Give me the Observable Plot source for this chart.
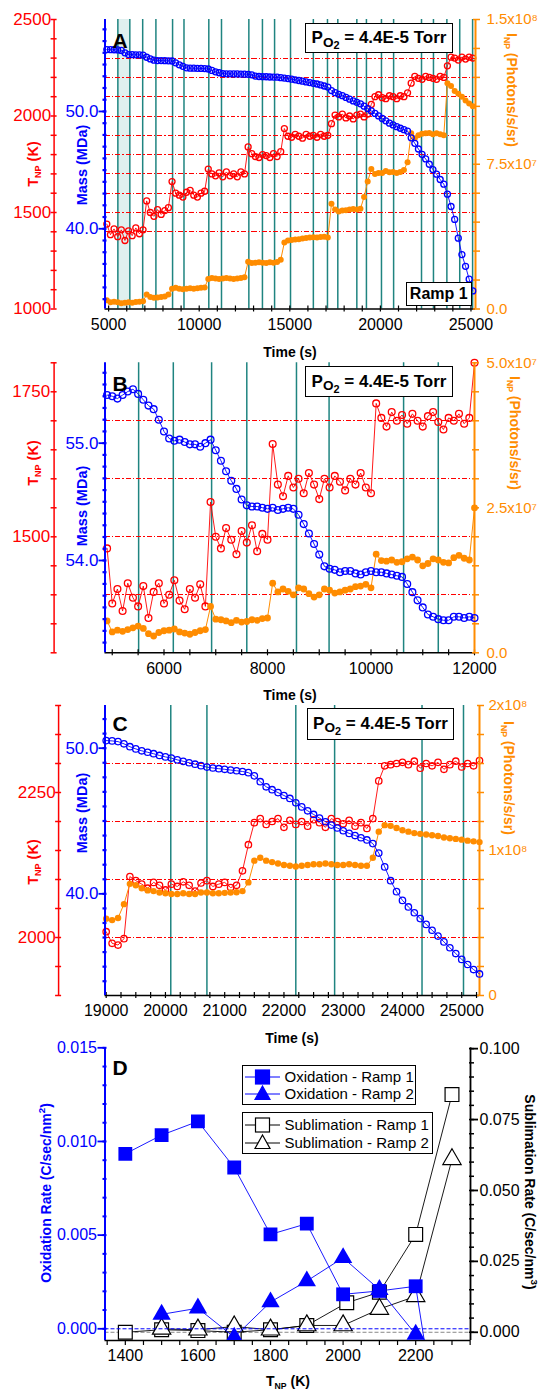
<!DOCTYPE html>
<html>
<head>
<meta charset="utf-8">
<script src="https://cdn.jsdelivr.net/npm/d3@7"></script>
<script src="https://cdn.jsdelivr.net/npm/@observablehq/plot@0.6"></script>
<style>
html,body{margin:0;padding:0;background:#fff;}
#root{position:relative;width:542px;height:1391px;overflow:hidden;font-family:"Liberation Sans",Arial,Helvetica,sans-serif;}
.t{position:absolute;white-space:nowrap;line-height:1;}
.box{position:absolute;box-sizing:border-box;border:1.5px solid #000;background:#fff;display:flex;align-items:center;justify-content:center;font-weight:bold;white-space:nowrap;}
.sb{font-size:0.62em;position:relative;top:0.35em;}
</style>
</head>
<body>
<div id="root"></div>
<script>
// ================= DATA =================
// ---- Panel A (Ramp 1) ----
const timeA = [4900,5100,5300,5500,5700,5900,6100,6300,6500,6700,
6900,7100,7300,7500,7700,7900,8100,8300,8500,8700,
8900,9100,9300,9500,9700,9900,10100,10300,10500,10700,
10900,11100,11300,11500,11700,11900,12100,12300,12500,12700,
12900,13100,13300,13500,13700,13900,14100,14300,14500,14700,
14900,15100,15300,15500,15700,15900,16100,16300,16500,16700,
16900,17100,17300,17500,17700,17900,18100,18300,18500,18700,
18900,19100,19300,19500,19700,19900,20100,20300,20500,20700,
20900,21100,21300,21500,21700,21900,22100,22300,22500,22700,
22900,23100,23300,23500,23700,23900,24100,24300,24500,24700,
24900,25100];
const tempA = [1440,1385,1415,1375,1410,1355,1405,1380,1420,1390,
1410,1560,1500,1480,1515,1490,1510,1525,1660,1600,
1590,1580,1605,1615,1590,1580,1600,1610,1725,1700,
1690,1705,1685,1710,1690,1700,1685,1710,1700,1840,
1805,1790,1785,1800,1795,1785,1805,1790,1815,1935,
1895,1890,1905,1895,1885,1905,1895,1900,1890,1905,
1895,1900,1960,2005,1995,2010,1990,2000,1985,2005,
2010,1995,2010,2060,2100,2110,2095,2090,2105,2100,
2090,2105,2100,2120,2170,2205,2195,2190,2205,2200,
2195,2190,2205,2200,2260,2305,2300,2290,2305,2295,
2305,2300];
const massA = [55.28,55.27,55.26,55.25,55.20,55.00,54.85,54.84,54.83,54.83,
54.80,54.62,54.48,54.37,54.34,54.34,54.33,54.32,54.30,54.15,
53.98,53.85,53.72,53.69,53.69,53.68,53.67,53.66,53.62,53.50,
53.38,53.30,53.23,53.21,53.21,53.20,53.20,53.19,53.18,53.17,
53.12,53.02,52.98,52.97,52.96,52.94,52.93,52.92,52.88,52.85,
52.80,52.75,52.70,52.64,52.58,52.52,52.46,52.40,52.34,52.26,
52.17,52.08,51.78,51.60,51.46,51.35,51.20,51.05,50.90,50.78,
50.65,50.45,50.25,50.05,49.83,49.62,49.40,49.20,49.00,48.85,
48.70,48.57,48.45,48.32,47.75,47.28,46.80,46.35,45.95,45.50,
45.05,44.65,44.20,43.80,42.95,41.90,40.80,39.20,37.80,36.80,
35.70,34.70];
const intA = [4.5,3.5,3.8,3.5,3.0,3.2,3.5,3.2,3.6,3.8,
4.0,7.5,6.2,5.8,6.0,6.2,6.5,7.5,10.5,11.0,
10.5,10.2,10.5,10.8,10.5,10.8,11.0,11.2,15.5,16.0,
15.8,15.5,15.8,16.0,15.8,15.5,15.8,16.0,16.5,24.5,
23.8,24.0,24.2,24.0,23.8,24.2,24.0,24.3,25.5,34.5,
35.5,35.8,36.0,36.2,36.5,36.8,37.0,37.2,37.0,37.3,
37.5,37.0,54.5,51.5,50.5,51.0,51.2,51.5,51.8,51.5,
52.0,58.0,66.0,72.5,70.0,70.5,70.5,71.5,70.8,71.0,
70.5,71.0,72.0,76.0,91.0,88.5,90.0,90.8,91.0,91.2,
90.5,91.0,90.5,90.0,117.0,115.5,113.0,111.5,110.0,108.0,
106.5,105.0]; // 10^6 photons/s/sr
const tealA = [5510,6170,6880,7610,8530,9160,10530,11230,12740,13490,14160,15040,16300,17080,17650,18700,19230,20060,20730,22270,22930,23670,24380,25090];
const bandA = [5510,6170];
const levelsA = [1400,1500,1600,1700,1800,1900,2000,2100,2200,2300];
const xLabA = [5000,10000,15000,20000,25000];
const tLabA = [1000,1500,2000,2500];
const mLabA = [40,50];
const iLabA = [0,75,150];
const iTxtA = ["0.0","7.5x10⁷","1.5x10⁸"];

// ---- Panel B ----
const timeB = [4900,5000,5100,5200,5300,5400,5500,5600,5700,5800,
5900,6000,6100,6200,6300,6400,6500,6600,6700,6800,
6900,7000,7100,7200,7300,7400,7500,7600,7700,7800,
7900,8000,8100,8200,8300,8400,8500,8600,8700,8800,
8900,9000,9100,9200,9300,9400,9500,9600,9700,9800,
9900,10000,10100,10200,10300,10400,10500,10600,10700,10800,
10900,11000,11100,11200,11300,11400,11500,11600,11700,11800,
11900,12000];
const tempB = [1480,1385,1410,1372,1420,1395,1380,1415,1360,1405,
1420,1385,1400,1425,1390,1375,1410,1395,1418,1380,
1560,1500,1480,1515,1495,1470,1510,1490,1520,1475,
1505,1495,1660,1590,1570,1605,1585,1600,1575,1610,
1590,1565,1600,1585,1605,1595,1580,1600,1590,1610,
1585,1575,1730,1705,1690,1715,1700,1710,1695,1712,
1700,1690,1708,1715,1698,1685,1705,1700,1712,1695,
1705,1800];
const massB = [55.41,55.40,55.38,55.41,55.44,55.46,55.42,55.37,55.32,55.29,
55.20,55.10,55.04,55.02,55.03,55.01,54.99,54.99,54.97,55.00,
55.03,54.94,54.85,54.76,54.68,54.61,54.52,54.47,54.46,54.46,
54.45,54.44,54.45,54.43,54.44,54.45,54.44,54.39,54.31,54.23,
54.14,54.05,53.95,53.93,53.92,53.90,53.91,53.91,53.89,53.88,
53.90,53.91,53.90,53.90,53.89,53.88,53.87,53.86,53.80,53.73,
53.66,53.60,53.54,53.52,53.50,53.49,53.49,53.52,53.52,53.51,
53.52,53.51];
const intB = [5.5,3.6,3.9,3.7,4.0,4.3,4.6,4.2,3.3,2.9,
3.5,3.8,3.9,4.1,3.6,3.4,3.2,3.5,3.8,4.0,
8.0,5.8,5.7,5.5,5.2,5.6,5.3,5.4,5.7,5.6,
5.9,6.0,12.0,10.5,11.0,10.6,10.0,11.2,11.0,10.2,
9.6,10.0,11.0,10.8,10.3,10.5,10.8,11.0,11.4,11.5,
11.8,11.2,17.0,15.9,15.8,16.0,15.6,15.7,16.2,16.5,
16.0,15.0,15.4,16.2,16.0,15.6,15.5,16.4,16.8,16.3,
16.0,25.0]; // 10^6 photons/s/sr
const tealB = [5510,6180,6920,7600,8560,9190,10630,11300];
const levelsB = [1400,1500,1600,1700];
const xLabB = [6000,8000,10000,12000];
const tLabB = [1500,1750];
const mLabB = [54,55];
const iLabB = [0,25,50];
const iTxtB = ["0.0","2.5x10⁷","5.0x10⁷"];

// ---- Panel C ----
const timeC = [19000,19100,19200,19300,19400,19500,19600,19700,19800,19900,
20000,20100,20200,20300,20400,20500,20600,20700,20800,20900,
21000,21100,21200,21300,21400,21500,21600,21700,21800,21900,
22000,22100,22200,22300,22400,22500,22600,22700,22800,22900,
23000,23100,23200,23300,23400,23500,23600,23700,23800,23900,
24000,24100,24200,24300,24400,24500,24600,24700,24800,24900,
25000,25100,25200,25300];
const tempC = [2010,1990,1987,1998,2105,2098,2092,2085,2095,2090,
2082,2092,2088,2096,2090,2080,2094,2098,2088,2092,
2095,2086,2090,2115,2160,2198,2205,2195,2200,2205,
2190,2202,2195,2200,2192,2203,2198,2190,2205,2200,
2196,2202,2192,2198,2188,2205,2270,2296,2298,2300,
2302,2298,2304,2292,2300,2296,2302,2290,2298,2304,
2294,2300,2296,2305];
const massC = [50.52,50.50,50.45,50.30,50.10,49.95,49.82,49.72,49.62,49.50,
49.40,49.32,49.20,49.10,49.00,48.90,48.80,48.70,48.64,48.59,
48.55,48.50,48.45,48.40,48.32,48.10,47.70,47.35,47.15,46.95,
46.75,46.55,46.25,45.97,45.70,45.45,45.20,44.95,44.72,44.52,
44.33,44.15,44.00,43.85,43.70,43.45,42.80,41.85,40.90,40.15,
39.55,39.10,38.70,38.30,37.90,37.50,37.10,36.70,36.30,35.90,
35.50,35.15,34.80,34.50];
const intC = [53,52,53.5,63,77,76,74,72.5,72,71,
70.5,70,70,70.5,70,70,71,71,70.5,70.5,
70.8,71,71.2,72,78,93,95,93,92,91,
90,89.5,89,89.5,90,90.5,90.5,91,90.5,90,
90,90.5,90,89.5,89.5,95,113,117.5,117,115.5,
114,113,112,111.5,111,110.5,110,109,108.5,108,
107.5,106.8,106.3,105.8]; // 10^6 photons/s/sr
const tealC = [20090,20700,22200,22855,24330,25030];
const levelsC = [2000,2100,2200,2300];
const xLabC = [19000,20000,21000,22000,23000,24000,25000];
const tLabC = [2000,2250];
const mLabC = [40,50];
const iLabC = [0,100,200];
const iTxtC = ["0","1x10⁸","2x10⁸"];

// ---- Panel D ----
const tOx1 = [1400,1500,1600,1700,1800,1900,2000,2100,2200,2300];
const oxRamp1 = [0.00934,0.01034,0.01107,0.00861,0.00504,0.00561,0.00184,0.00202,0.00227,-0.0100];
const tOx2 = [1500,1600,1700,1800,1900,2000,2100,2200];
const oxRamp2 = [0.00077,0.0011,-0.00045,0.00143,0.00255,0.00379,0.00209,-0.0003];
const tSub1 = [1400,1500,1600,1700,1800,1900,2010,2100,2200,2300];
const subRamp1 = [0.0,0.0009,0.0006,0.0,0.0009,0.0024,0.0104,0.0141,0.0345,0.0838];
const tSub2 = [1500,1600,1700,1800,1900,2000,2100,2200,2300];
const subRamp2 = [0.0012,0.0009,0.0020,0.0009,0.0024,0.0024,0.0082,0.0127,0.0610];
const xLabD = [1400,1600,1800,2000,2200];
const oxLab = [0,0.005,0.010,0.015];
const subLab = [0,0.025,0.050,0.075,0.100];

// ================= HELPERS =================
const FONT = '"Liberation Sans", Arial, Helvetica, sans-serif';
const RED = "#ff0000", BLUE = "#0000ff", ORANGE = "#ff8c00", TEAL = "#1f8480";
const root = document.getElementById("root");
const blank = () => "";

function layer(top, height, fr, xDom, yDom, marks) {
  const svg = Plot.plot({
    width: 542, height,
    marginTop: fr.top - top, marginBottom: top + height - fr.bottom,
    marginLeft: fr.left, marginRight: 542 - fr.right,
    x: {type: "linear", domain: xDom, axis: null},
    y: {type: "linear", domain: yDom, axis: null},
    style: {background: "none", overflow: "visible", fontFamily: FONT, fontSize: "16px", color: "#000"},
    marks
  });
  svg.style.position = "absolute";
  svg.style.left = "0px";
  svg.style.top = top + "px";
  root.appendChild(svg);
}
function yTicks(vals, anchor, color, size, shift, width) {
  return Plot.axisY(vals, {anchor, tickSize: size, dx: shift, tickFormat: blank, stroke: color, fill: color, strokeWidth: width, label: null});
}
function yLabels(vals, anchor, color, pad, fmt, fs, size = 0, width = 1.5) {
  return Plot.axisY(vals, {anchor, tickSize: size, tickPadding: pad, tickFormat: fmt, fill: color, stroke: color, strokeWidth: width, fontSize: fs, label: null});
}
function xAxis(minor, labels, pad, fs) {
  return [
    Plot.axisX(minor, {anchor: "bottom", tickSize: 6, dy: -3, tickFormat: blank, strokeWidth: 1.2, label: null}),
    Plot.axisX(labels, {anchor: "bottom", tickSize: 0, tickPadding: pad, tickFormat: d => String(d), fontSize: fs, label: null})
  ];
}
function rows(times, T, m, I) {
  return times.map((t, i) => ({t, T: T[i], m: m[i], I: I[i]}));
}
function text(html, x, y, o = {}) {
  const d = document.createElement("div");
  d.className = "t";
  d.innerHTML = html;
  d.style.left = x + "px";
  d.style.top = y + "px";
  d.style.transform = `translate(-50%,-50%) rotate(${o.rot || 0}deg)`;
  d.style.color = o.color || "#000";
  d.style.fontSize = (o.size || 14) + "px";
  d.style.fontWeight = o.weight || "bold";
  root.appendChild(d);
}
function box(html, l, t, w, h, fs) {
  const d = document.createElement("div");
  d.className = "box";
  d.innerHTML = html;
  Object.assign(d.style, {left: l + "px", top: t + "px", width: w + "px", height: h + "px", fontSize: fs + "px"});
  root.appendChild(d);
}

// generic time-series panel
function seriesPanel(P) {
  const data = rows(P.time, P.temp, P.mass, P.int);
  const fr = P.frame;
  const base = [];
  if (P.band) base.push(Plot.rect([{a: P.band[0], b: P.band[1]}], {x1: "a", x2: "b", fill: "#dff0ef"}));
  base.push(Plot.ruleX(P.teal, {stroke: TEAL, strokeWidth: 1.5}));
  base.push(Plot.ruleY([0], {stroke: "#000", strokeWidth: 1.5}));
  base.push(...xAxis(P.xMinor, P.xLab, P.xPad, 16));
  layer(P.top, P.height, fr, P.xDom, [0, 1], base);
  // red axis (offset left)
  layer(P.top, P.height, {...fr, left: P.redX}, [0, 1], P.tDom, [
    Plot.ruleX([0], {stroke: RED, strokeWidth: 1.5}),
    yTicks(P.tMinor, "left", RED, 6, 3, 1.5),
    yLabels(P.tLab, "left", RED, P.tPad, d => String(d), 17)
  ]);
  // red data
  layer(P.top, P.height, fr, P.xDom, P.tDom, [
    Plot.ruleY(P.levels, {stroke: RED, strokeWidth: 1, strokeDasharray: "5,2,1.5,2", shapeRendering: "crispEdges"}),
    Plot.line(data, {x: "t", y: "T", stroke: RED, strokeWidth: 0.9}),
    Plot.dot(data, {x: "t", y: "T", r: P.r, stroke: RED, fill: "none", strokeWidth: 1.3})
  ]);
  // orange data + right axis
  layer(P.top, P.height, fr, P.xDom, P.iDom, [
    Plot.line(data, {x: "t", y: "I", stroke: ORANGE, strokeWidth: 1}),
    Plot.dot(data, {x: "t", y: "I", r: P.r, fill: ORANGE, stroke: "none"}),
    Plot.ruleX([P.xDom[1]], {stroke: ORANGE, strokeWidth: 2}),
    yTicks(P.iMinor, "right", ORANGE, 7, -3, 1.5),
    yLabels(P.iLab, "right", ORANGE, P.iPad, d => P.iTxt[P.iLab.indexOf(d)], 15)
  ]);
  // blue data + left axis
  layer(P.top, P.height, fr, P.xDom, P.mDom, [
    Plot.line(data, {x: "t", y: "m", stroke: BLUE, strokeWidth: 0.9}),
    Plot.dot(data, {x: "t", y: "m", r: P.r, stroke: BLUE, fill: "none", strokeWidth: 1.3}),
    Plot.ruleX([P.xDom[0]], {stroke: BLUE, strokeWidth: 2}),
    yTicks(P.mMinor, "left", BLUE, 4, 2, 2.2),
    yLabels(P.mLab, "left", BLUE, 0.5, d => d.toFixed(1), 17, 6, 1.8)
  ]);
}

// ================= PANEL A =================
seriesPanel({
  top: 0, height: 345, frame: {top: 19, bottom: 308.5, left: 104.5, right: 475},
  time: timeA, temp: tempA, mass: massA, int: intA, r: 3.0,
  xDom: [4800, 25250], tDom: [1000, 2500], mDom: [33.16, 57.84], iDom: [0, 150],
  teal: tealA, band: bandA, levels: levelsA,
  xMinor: d3.range(5000, 25001, 1000), xLab: xLabA, xPad: 10,
  redX: 53.6, tMinor: d3.range(1000, 2501, 100), tLab: tLabA, tPad: 3,
  mMinor: d3.range(34, 58, 1), mLab: mLabA,
  iMinor: d3.range(0, 151, 15), iLab: iLabA, iTxt: iTxtA, iPad: 11
});

// ================= PANEL B =================
seriesPanel({
  top: 345, height: 340, frame: {top: 362.3, bottom: 652.3, left: 104.5, right: 474},
  time: timeB, temp: tempB, mass: massB, int: intB, r: 3.4,
  xDom: [4860, 12000], tDom: [1300, 1800], mDom: [53.213, 55.685], iDom: [0, 50],
  teal: tealB, band: null, levels: levelsB,
  xMinor: d3.range(5000, 12001, 500), xLab: xLabB, xPad: 10,
  redX: 53.6, tMinor: d3.range(1300, 1801, 50), tLab: tLabB, tPad: 4,
  mMinor: d3.range(53.3, 55.65, 0.1), mLab: mLabB,
  iMinor: d3.range(0, 51, 5), iLab: iLabB, iTxt: iTxtB, iPad: 12
});

// ================= PANEL C =================
seriesPanel({
  top: 685, height: 345, frame: {top: 705, bottom: 995, left: 104.5, right: 479},
  time: timeC, temp: tempC, mass: massC, int: intC, r: 3.2,
  xDom: [18980, 25300], tDom: [1900, 2400], mDom: [33.02, 52.93], iDom: [0, 200],
  teal: tealC, band: null, levels: levelsC,
  xMinor: d3.range(19000, 25300, 250), xLab: xLabC, xPad: 9,
  redX: 58.1, tMinor: d3.range(1900, 2401, 50), tLab: tLabC, tPad: 3,
  mMinor: d3.range(34, 53, 1), mLab: mLabC,
  iMinor: d3.range(0, 201, 20), iLab: iLabC, iTxt: iTxtC, iPad: 9
});

// ================= PANEL D =================
const frD = {top: 1047.3, bottom: 1340, left: 104.5, right: 470};
const xDomD = [1344, 2351];
const ox1 = tOx1.map((T, i) => ({T, v: oxRamp1[i]}));
const ox2 = tOx2.map((T, i) => ({T, v: oxRamp2[i]}));
const sb1 = tSub1.map((T, i) => ({T, v: subRamp1[i]}));
const sb2 = tSub2.map((T, i) => ({T, v: subRamp2[i]}));
layer(1030, 361, frD, xDomD, [0, 1], [
  Plot.ruleY([0], {stroke: "#000", strokeWidth: 1.5}),
  Plot.axisX(d3.range(1350, 2351, 50), {anchor: "bottom", tickSize: 5, tickFormat: blank, strokeWidth: 1.2, label: null}),
  Plot.axisX(xLabD, {anchor: "bottom", tickSize: 0, tickPadding: 9, tickFormat: d => String(d), fontSize: 16, label: null})
]);
layer(1030, 361, frD, xDomD, [-0.0029, 0.1003], [
  Plot.ruleY([0], {stroke: "#888", strokeWidth: 1, strokeDasharray: "4,2"}),
  Plot.line(sb1, {x: "T", y: "v", stroke: "#000", strokeWidth: 0.9}),
  Plot.line(sb2, {x: "T", y: "v", stroke: "#000", strokeWidth: 0.9}),
  Plot.dot(sb1, {x: "T", y: "v", symbol: "square", r: 7.8, fill: "#fff", stroke: "#000", strokeWidth: 1.2}),
  Plot.dot(sb2, {x: "T", y: "v", symbol: "triangle", r: 6.8, fill: "#fff", stroke: "#000", strokeWidth: 1.2}),
  Plot.ruleX([xDomD[1]], {stroke: "#000", strokeWidth: 1.8}),
  yTicks(d3.range(0, 0.1001, 0.005), "right", "#000", 5, -2, 1.5),
  yLabels(subLab, "right", "#000", 2, d => d.toFixed(3), 16, 7, 1.8)
]);
layer(1030, 361, frD, xDomD, [-0.000625, 0.015], [
  Plot.ruleY([0], {stroke: BLUE, strokeWidth: 1, strokeDasharray: "4,2"}),
  Plot.line(ox1, {x: "T", y: "v", stroke: BLUE, strokeWidth: 0.9, clip: true}),
  Plot.line(ox2, {x: "T", y: "v", stroke: BLUE, strokeWidth: 0.9, clip: true}),
  Plot.dot(ox1, {x: "T", y: "v", symbol: "square", r: 7.8, fill: BLUE, clip: true}),
  Plot.dot(ox2, {x: "T", y: "v", symbol: "triangle", r: 6.8, fill: BLUE, clip: true}),
  Plot.ruleX([xDomD[0]], {stroke: BLUE, strokeWidth: 2}),
  yTicks(d3.range(0, 0.0151, 0.001), "left", BLUE, 4, 2, 2),
  yLabels(oxLab, "left", BLUE, 1, d => d.toFixed(3), 16, 7, 1.8)
]);

// ================= TEXT =================
const TNP = 'T<span class="sb">NP</span> (K)';
const INP = 'I<span class="sb">NP</span> (Photons/s/sr)';
const PO2 = 'P<span style="font-size:0.8em;position:relative;top:0.3em">O<span style="font-size:0.8em;position:relative;top:0.25em">2</span></span>&nbsp;= 4.4E-5 Torr';
// Panel A
text("A", 120, 40, {size: 21});
text(TNP, 33, 164, {rot: -90, color: RED, size: 14.5});
text("Mass (MDa)", 82, 165, {rot: -90, color: BLUE, size: 14.5});
text(INP, 512, 90, {rot: 90, color: ORANGE});
text("Time (s)", 290, 352);
box(PO2, 305, 23, 148, 30, 17);
box("Ramp 1", 405.5, 282, 66.5, 23.5, 16);
// Panel B
text("B", 120, 383, {size: 21});
text(TNP, 33, 463, {rot: -90, color: RED, size: 14.5});
text("Mass (MDa)", 82, 506, {rot: -90, color: BLUE, size: 14.5});
text(INP, 515, 433, {rot: 90, color: ORANGE});
text("Time (s)", 290, 695);
box(PO2, 305, 366, 148, 31, 17);
// Panel C
text("C", 120, 723, {size: 21});
text(TNP, 33, 862, {rot: -90, color: RED, size: 14.5});
text("Mass (MDa)", 82, 813, {rot: -90, color: BLUE, size: 14.5});
text(INP, 509, 778, {rot: 90, color: ORANGE});
text("Time (s)", 292, 1038);
box(PO2, 307, 707.5, 147, 32.5, 17);
// Panel D
text("D", 120, 1067, {size: 21});
text('Oxidation Rate (C/sec/nm<sup style="font-size:0.7em">2</sup>)', 45, 1193, {rot: -90, color: BLUE});
text('Sublimation Rate (C/sec/nm<sup style="font-size:0.7em">3</sup>)', 531, 1192, {rot: 90, color: "#000"});
text('T<span class="sb">NP</span> (K)', 288, 1381);

// Legend D
function legendBox(l, t, w, h, items) {
  const d = document.createElement("div");
  d.style.cssText = `position:absolute;left:${l}px;top:${t}px;width:${w}px;height:${h}px;box-sizing:border-box;border:1.5px solid #000;background:#fff;`;
  let s = `<svg width="${w}" height="${h}" style="position:absolute;left:-1.5px;top:-1.5px;overflow:visible">`;
  for (const it of items) {
    const y = it.y;
    s += `<line x1="3" x2="38" y1="${y}" y2="${y}" stroke="${it.line}" stroke-width="1"/>`;
    if (it.sym === "sq") s += `<rect x="${20.5 - 7}" y="${y - 7}" width="14" height="14" fill="${it.fill}" stroke="${it.stroke}" stroke-width="1.2"/>`;
    else s += `<path d="M20.5,${y - 8} L28,${y + 5.5} L13,${y + 5.5} Z" fill="${it.fill}" stroke="${it.stroke}" stroke-width="1.2"/>`;
    s += `<text x="42.5" y="${y}" dy="0.35em" font-size="15" font-family='${FONT}'>${it.label}</text>`;
  }
  s += "</svg>";
  d.innerHTML = s;
  root.appendChild(d);
}
legendBox(242, 1065, 174, 40, [
  {y: 12, sym: "sq", fill: BLUE, stroke: BLUE, line: BLUE, label: "Oxidation - Ramp 1"},
  {y: 29, sym: "tri", fill: BLUE, stroke: BLUE, line: BLUE, label: "Oxidation - Ramp 2"}
]);
legendBox(242, 1112, 190.5, 41.5, [
  {y: 13, sym: "sq", fill: "#fff", stroke: "#000", line: "#000", label: "Sublimation - Ramp 1"},
  {y: 31, sym: "tri", fill: "#fff", stroke: "#000", line: "#000", label: "Sublimation - Ramp 2"}
]);
</script>
</body>
</html>
